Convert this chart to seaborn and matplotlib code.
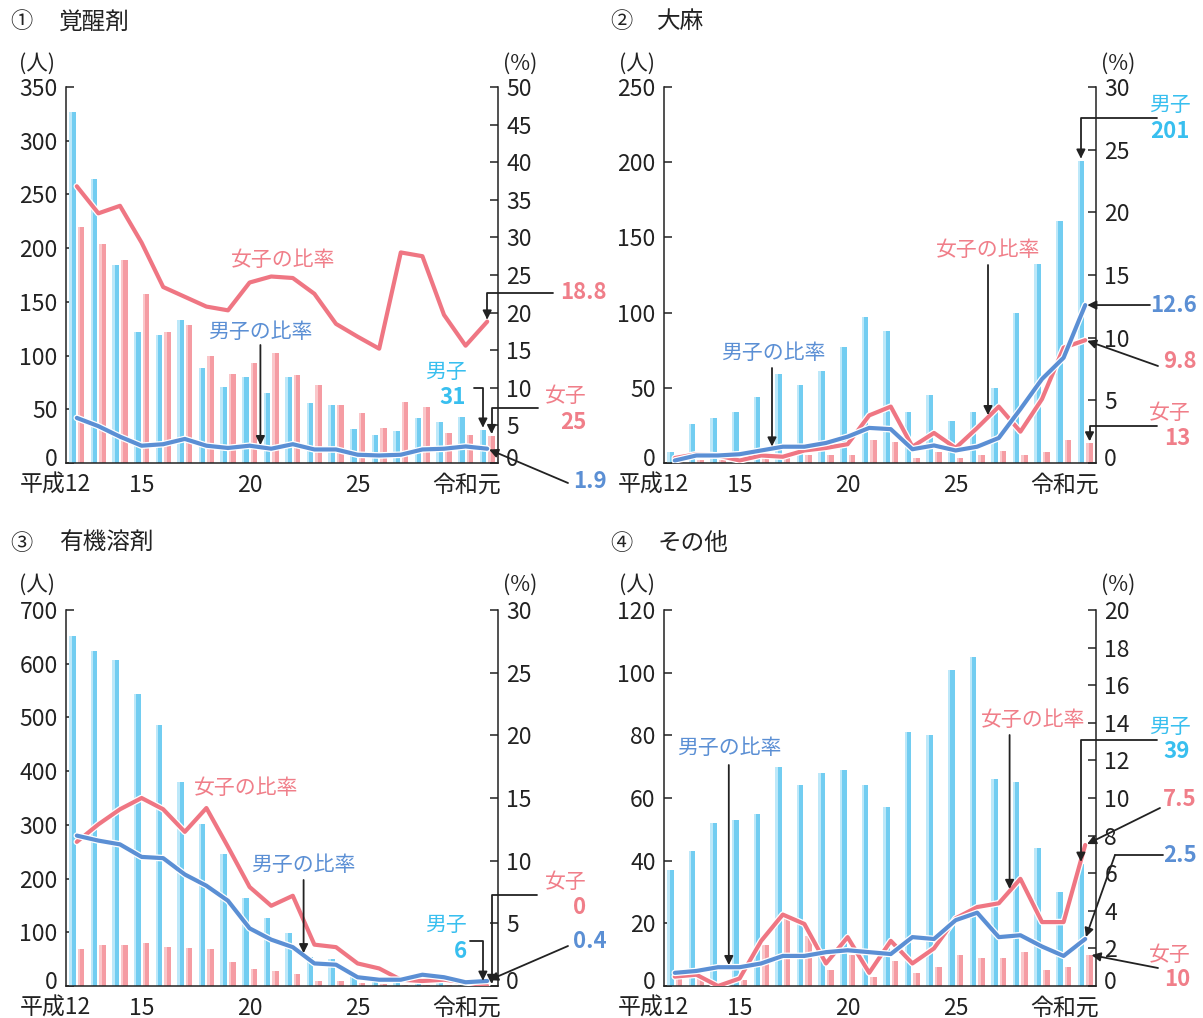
import matplotlib
matplotlib.use("Agg")
import matplotlib.pyplot as plt
import matplotlib.patheffects as pe
from matplotlib.patches import Rectangle
from matplotlib.transforms import ScaledTranslation
import numpy as np
import pandas as pd
import seaborn as sns

# ---- data (平成12 .. 令和元, 20 years) ----
YEARS = [f"H{y}" for y in range(12, 31)] + ["R1"]
TICK_POS = [0, 3, 8, 13, 19]
TICK_LABELS = ["平成12", "15", "20", "25", "令和元"]

stim_male = [327, 264, 184, 122, 119, 133, 88, 71, 80, 65, 80, 56, 54, 32, 26, 30, 42, 38, 43, 31]
stim_female = [220, 204, 189, 157, 122, 128, 100, 83, 93, 102, 82, 73, 54, 47, 33, 57, 52, 28, 26, 25]
stim_male_rate = [6.0, 4.9, 3.5, 2.3, 2.5, 3.2, 2.3, 2.0, 2.3, 1.9, 2.5, 1.8, 1.8, 1.1, 1.0, 1.1, 1.8, 1.9, 2.2, 1.9]
stim_female_rate = [36.8, 33.2, 34.2, 29.3, 23.4, 22.1, 20.8, 20.3, 24.0, 24.8, 24.6, 22.5, 18.5, 16.8, 15.2, 28.0, 27.5, 19.7, 15.6, 18.8]

can_male = [7, 26, 30, 34, 44, 59, 52, 61, 77, 97, 88, 34, 45, 28, 34, 50, 100, 132, 161, 201]
can_female = [1, 2, 2, 1, 3, 3, 5, 5, 5, 15, 14, 3, 7, 3, 5, 8, 5, 7, 15, 13]
can_male_rate = [0.2, 0.6, 0.6, 0.7, 1.0, 1.3, 1.3, 1.6, 2.1, 2.8, 2.7, 1.1, 1.4, 1.0, 1.3, 2.0, 4.3, 6.7, 8.4, 12.6]
can_female_rate = [0.4, 0.7, 0.6, 0.2, 0.6, 0.5, 1.0, 1.2, 1.5, 3.8, 4.5, 1.3, 2.4, 1.2, 2.8, 4.5, 2.5, 5.1, 9.2, 9.8]

solv_male = [652, 623, 607, 544, 485, 379, 301, 246, 164, 127, 99, 54, 50, 17, 10, 8, 6, 8, 4, 6]
solv_female = [68, 77, 77, 80, 73, 70, 68, 44, 31, 27, 23, 10, 9, 5, 4, 1, 1, 1, 0, 0]
solv_male_rate = [12.0, 11.6, 11.3, 10.3, 10.2, 8.9, 8.0, 6.8, 4.6, 3.7, 3.1, 1.8, 1.7, 0.7, 0.5, 0.5, 0.9, 0.7, 0.3, 0.4]
solv_female_rate = [11.5, 12.9, 14.1, 15.0, 14.1, 12.3, 14.2, 11.1, 7.9, 6.4, 7.2, 3.3, 3.1, 1.8, 1.4, 0.5, 0.4, 0.5, 0.3, 0.0]

oth_male = [37, 43, 52, 53, 55, 70, 64, 68, 69, 64, 57, 81, 80, 101, 105, 66, 65, 44, 30, 39]
oth_female = [3, 3, 1, 2, 13, 22, 16, 5, 10, 3, 8, 4, 6, 10, 9, 9, 11, 5, 6, 10]
oth_male_rate = [0.7, 0.8, 1.0, 1.0, 1.2, 1.6, 1.6, 1.8, 1.9, 1.8, 1.7, 2.6, 2.5, 3.5, 3.9, 2.6, 2.7, 2.1, 1.6, 2.5]
oth_female_rate = [0.5, 0.6, 0.0, 0.4, 2.4, 3.8, 3.3, 1.2, 2.6, 0.7, 2.4, 1.2, 2.0, 3.6, 4.2, 4.4, 5.7, 3.4, 3.4, 7.5]

# ---- style ----
W, H = 1203, 1018
INK = "#222222"
MALE_BAR, MALE_BAR_LIGHT = "#72cdf1", "#bde8f9"
FEMALE_BAR, FEMALE_BAR_LIGHT = "#f59ca3", "#fac7ca"
MALE_LINE, FEMALE_LINE = "#5b8fd4", "#ef7683"
MALE_TXT, FEMALE_TXT = "#38bfef", "#f07e89"
TICK_SIZE = 16.5

sns.set_style("white")
plt.rcParams["font.family"] = ["Noto Sans CJK JP", "DejaVu Sans"]
plt.rcParams["text.color"] = INK

fig = plt.figure(figsize=(W / 100, H / 100), dpi=100)


def px_text(x, y, s, color=INK, size=15, weight="normal", ha="center"):
    fig.text(x / W, 1 - y / H, s, color=color, fontsize=size, fontweight=weight,
             ha=ha, va="center")


def make_panel(rect, male, female, male_rate, female_rate, ymax, ystep, rmax, rstep):
    ax = fig.add_axes(rect)
    df = pd.DataFrame({
        "year": YEARS * 2,
        "count": male + female,
        "sex": ["男子"] * len(YEARS) + ["女子"] * len(YEARS),
    })
    sns.barplot(data=df, x="year", y="count", hue="sex", hue_order=["男子", "女子"],
                palette={"男子": MALE_BAR, "女子": FEMALE_BAR}, saturation=1,
                width=0.8, gap=0.25, legend=False, ax=ax, linewidth=0)
    # lighter stripe on each bar
    for cont, light in zip(ax.containers, [MALE_BAR_LIGHT, FEMALE_BAR_LIGHT]):
        for p in cont:
            ax.add_patch(Rectangle((p.get_x(), 0), p.get_width() * 0.35, p.get_height(),
                                   color=light, lw=0, zorder=p.get_zorder() + 0.1))
    ax.set_ylim(0, ymax)
    ax.set_yticks(np.arange(0, ymax + 1, ystep))
    ax.set_xlabel("")
    ax.set_ylabel("")

    ax2 = ax.twinx()
    idx = np.arange(len(YEARS))
    stroke = [pe.Stroke(linewidth=4.8, foreground="white"), pe.Normal()]
    sns.lineplot(x=idx, y=female_rate, color=FEMALE_LINE, lw=3.0, ax=ax2,
                 path_effects=stroke, sort=False)
    sns.lineplot(x=idx, y=male_rate, color=MALE_LINE, lw=3.0, ax=ax2,
                 path_effects=stroke, sort=False)
    ax2.set_ylim(0, rmax)
    ax2.set_yticks(np.arange(0, rmax + 0.01, rstep))
    ax2.set_ylabel("")
    ax.set_xlim(-0.5, len(YEARS) - 0.5)

    for a in (ax, ax2):
        for s in a.spines.values():
            s.set_visible(False)
            s.set_color(INK)
            s.set_linewidth(1.1)
    ax.spines["left"].set_visible(True)
    ax.spines["bottom"].set_visible(True)
    ax2.spines["right"].set_visible(True)

    for a in (ax, ax2):
        a.tick_params(axis="y", direction="in", length=6, width=1.1, pad=6,
                      labelsize=TICK_SIZE, colors=INK)
        # the zero label sits a little above the baseline in the original
        zero = a.get_yticklabels()[0]
        zero.set_transform(zero.get_transform() + ScaledTranslation(0, 0.06, fig.dpi_scale_trans))
    ax.set_xticks(TICK_POS)
    ax.set_xticklabels(TICK_LABELS)
    ax.tick_params(axis="x", length=0, pad=8, labelsize=TICK_SIZE, colors=INK)
    shift = ScaledTranslation(-0.21, 0, fig.dpi_scale_trans)
    labels = ax.get_xticklabels()
    for lab in (labels[0], labels[-1]):
        lab.set_transform(lab.get_transform() + shift)
    return ax, ax2


def arrow(ax2, xy, xy_trans, start, conn="arc3", xdata=False):
    tc = (xy_trans, "figure pixels") if xdata else "figure pixels"
    ax2.annotate("", xy=xy, xycoords=xy_trans, xytext=(start[0], H - start[1]), textcoords=tc,
                 annotation_clip=False,
                 arrowprops=dict(arrowstyle="-|>", color=INK, lw=1.3, mutation_scale=13,
                                 shrinkA=0, shrinkB=1.5, connectionstyle=conn))


ELBOW = "angle,angleA=0,angleB=90,rad=0"


def bar_top(ax, which):
    p = ax.containers[which][-1]
    return (p.get_x() + p.get_width() / 2, p.get_height())


def rate_at(x, rate):
    return (x, float(np.interp(x, np.arange(len(rate)), rate)))


PW, PH = 432 / W, 376 / H
X1, X2 = 66 / W, 664 / W
Y1, Y2 = 1 - 463 / H, 1 - 986 / H

# ---- panel 1: 覚醒剤 ----
a1, r1 = make_panel([X1, Y1, PW, PH], stim_male, stim_female, stim_male_rate, stim_female_rate,
                    350, 50, 50, 5)
px_text(21, 22, "①", size=16)
px_text(59, 22, "覚醒剤", size=17, ha="left")
px_text(37, 64, "(人)", size=15.5)
px_text(520, 64, "(%)", size=15.5)
px_text(283, 260, "女子の比率", FEMALE_TXT)
px_text(260, 332, "男子の比率", MALE_LINE)
arrow(r1, rate_at(8.5, stim_male_rate), r1.transData, (8.5, 345), xdata=True)
px_text(446, 372, "男子", MALE_TXT)
px_text(453, 397, str(stim_male[-1]), MALE_TXT, size=16, weight="bold")
arrow(r1, bar_top(a1, 0), a1.transData, (474, 388), ELBOW)
px_text(566, 396, "女子", FEMALE_TXT)
px_text(573, 423, str(stim_female[-1]), FEMALE_TXT, size=16, weight="bold")
arrow(r1, bar_top(a1, 1), a1.transData, (538, 408), ELBOW)
px_text(583, 293, f"{stim_female_rate[-1]}", FEMALE_TXT, size=16, weight="bold")
arrow(r1, (19, stim_female_rate[-1]), r1.transData, (553, 293), ELBOW)
px_text(590, 482, f"{stim_male_rate[-1]}", MALE_LINE, size=16, weight="bold")
arrow(r1, (19, stim_male_rate[-1]), r1.transData, (568, 483))

# ---- panel 2: 大麻 ----
a2, r2 = make_panel([X2, Y1, PW, PH], can_male, can_female, can_male_rate, can_female_rate,
                    250, 50, 30, 5)
px_text(621, 22, "②", size=16)
px_text(657, 22, "大麻", size=17, ha="left")
px_text(637, 64, "(人)", size=15.5)
px_text(1118, 64, "(%)", size=15.5)
px_text(988, 250, "女子の比率", FEMALE_TXT)
arrow(r2, rate_at(14.5, can_female_rate), r2.transData, (14.5, 265), xdata=True)
px_text(773, 353, "男子の比率", MALE_LINE)
arrow(r2, rate_at(4.5, can_male_rate), r2.transData, (4.5, 368), xdata=True)
px_text(1170, 105, "男子", MALE_TXT)
px_text(1170, 131, str(can_male[-1]), MALE_TXT, size=16, weight="bold")
arrow(r2, bar_top(a2, 0), a2.transData, (1157, 118), ELBOW)
px_text(1173, 305, f"{can_male_rate[-1]}", MALE_LINE, size=16, weight="bold")
arrow(r2, (19, can_male_rate[-1]), r2.transData, (1150, 305))
px_text(1180, 362, f"{can_female_rate[-1]}", FEMALE_TXT, size=16, weight="bold")
arrow(r2, (19, can_female_rate[-1]), r2.transData, (1158, 366))
px_text(1170, 413, "女子", FEMALE_TXT)
px_text(1177, 438, str(can_female[-1]), FEMALE_TXT, size=16, weight="bold")
arrow(r2, bar_top(a2, 1), a2.transData, (1157, 426), ELBOW)

# ---- panel 3: 有機溶剤 ----
a3, r3 = make_panel([X1, Y2, PW, PH], solv_male, solv_female, solv_male_rate, solv_female_rate,
                    700, 100, 30, 5)
px_text(21, 543, "③", size=16)
px_text(59, 543, "有機溶剤", size=17, ha="left")
px_text(37, 585, "(人)", size=15.5)
px_text(520, 585, "(%)", size=15.5)
px_text(246, 788, "女子の比率", FEMALE_TXT)
px_text(303, 865, "男子の比率", MALE_LINE)
arrow(r3, rate_at(10.5, solv_male_rate), r3.transData, (10.5, 880), xdata=True)
px_text(566, 882, "女子", FEMALE_TXT)
px_text(580, 908, str(solv_female[-1]), FEMALE_TXT, size=16, weight="bold")
arrow(r3, bar_top(a3, 1), a3.transData, (537, 895), ELBOW)
px_text(446, 925, "男子", MALE_TXT)
px_text(460, 951, str(solv_male[-1]), MALE_TXT, size=16, weight="bold")
arrow(r3, bar_top(a3, 0), a3.transData, (470, 941), ELBOW)
px_text(590, 942, f"{solv_male_rate[-1]}", MALE_LINE, size=16, weight="bold")
arrow(r3, (19, solv_male_rate[-1]), r3.transData, (568, 946))

# ---- panel 4: その他 ----
a4, r4 = make_panel([X2, Y2, PW, PH], oth_male, oth_female, oth_male_rate, oth_female_rate,
                    120, 20, 20, 2)
px_text(621, 543, "④", size=16)
px_text(658, 543, "その他", size=17, ha="left")
px_text(637, 585, "(人)", size=15.5)
px_text(1118, 585, "(%)", size=15.5)
px_text(729, 748, "男子の比率", MALE_LINE)
arrow(r4, rate_at(2.5, oth_male_rate), r4.transData, (2.5, 765), xdata=True)
px_text(1033, 720, "女子の比率", FEMALE_TXT)
arrow(r4, rate_at(15.5, oth_female_rate), r4.transData, (15.5, 735), xdata=True)
px_text(1170, 727, "男子", MALE_TXT)
px_text(1177, 752, str(oth_male[-1]), MALE_TXT, size=16, weight="bold")
arrow(r4, bar_top(a4, 0), a4.transData, (1157, 740), ELBOW)
px_text(1180, 800, f"{oth_female_rate[-1]}", FEMALE_TXT, size=16, weight="bold")
arrow(r4, (19, oth_female_rate[-1]), r4.transData, (1160, 808))
px_text(1180, 855, f"{oth_male_rate[-1]}", MALE_LINE, size=16, weight="bold")
fig.add_artist(plt.Line2D([1115 / W, 1163 / W], [1 - 855 / H, 1 - 855 / H], color=INK, lw=1.3))
arrow(r4, (19, oth_male_rate[-1]), r4.transData, (1115, 855))
px_text(1170, 955, "女子", FEMALE_TXT)
px_text(1177, 980, str(oth_female[-1]), FEMALE_TXT, size=16, weight="bold")
arrow(r4, bar_top(a4, 1), a4.transData, (1158, 968))

fig.savefig("out.png", dpi=100)
